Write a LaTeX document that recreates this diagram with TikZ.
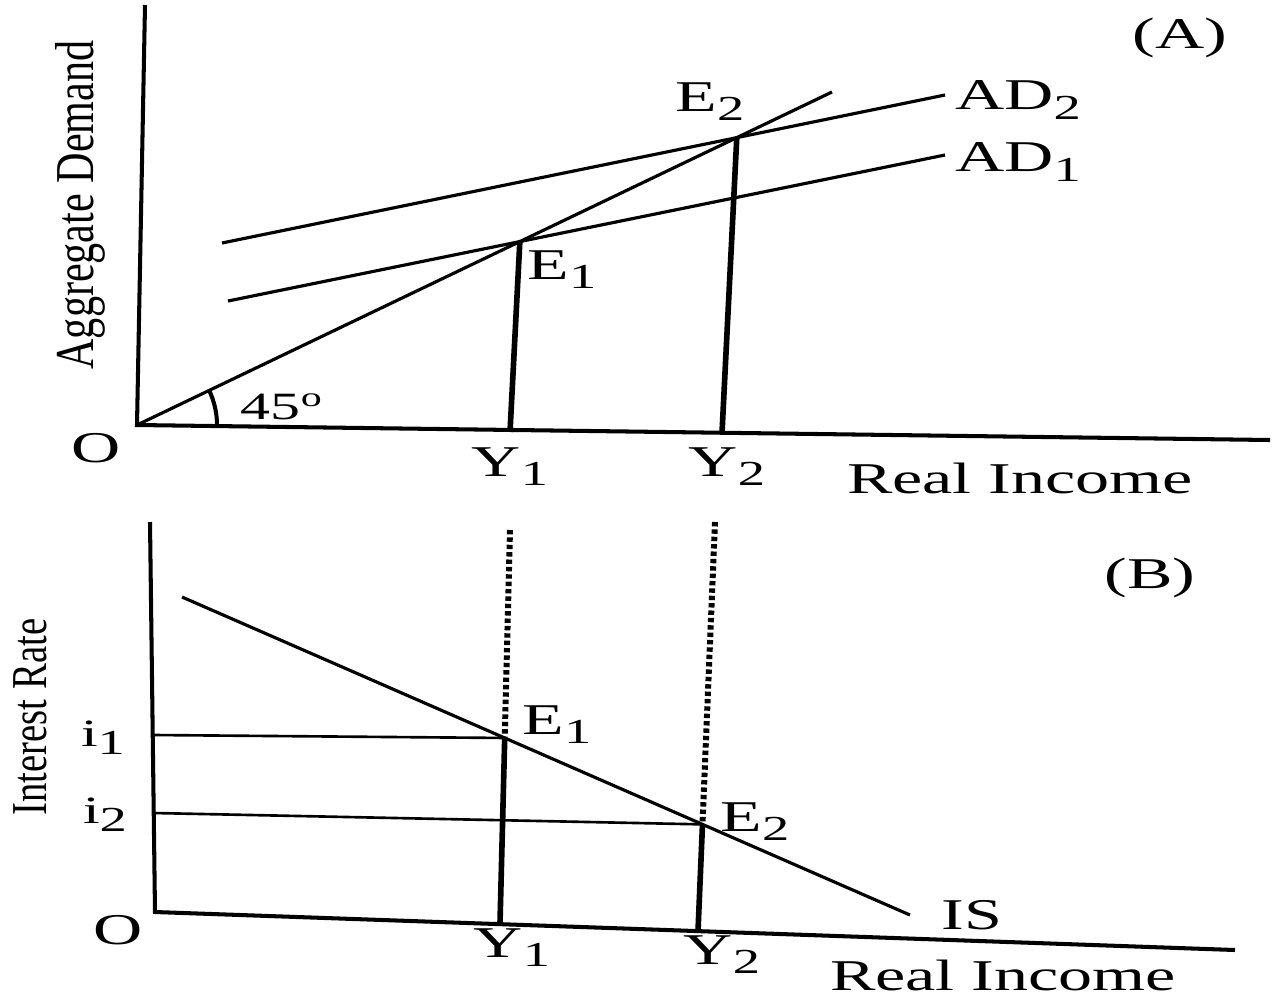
\documentclass[tikz,border=0pt]{standalone}
\usepackage{fontspec}
\setmainfont{Liberation Serif}
\usetikzlibrary{positioning}
\newcommand{\lblfont}{\fontsize{25}{28}\selectfont}
\newcommand{\wide}[1]{\scalebox{1.55}[1]{#1}}
\newcommand{\tall}[1]{\scalebox{1}[1.3]{#1}}
\newcommand{\sub}[1]{\raisebox{-0.45ex}{\fontsize{20}{20}\selectfont #1}}
\begin{document}
\begin{tikzpicture}[x=0.02cm, y=-0.02cm,
    axis/.style={line width=2.3pt},
    curve/.style={line width=1.8pt},
    drop/.style={line width=3.2pt},
    dotdrop/.style={line width=3.4pt, dash pattern=on 2.5pt off 1.7pt},
    level/.style={line width=1.5pt},
    lbl/.style={font=\lblfont, inner sep=0pt},
    small/.style={font=\fontsize{22}{24}\selectfont, inner sep=0pt},
    ytitle/.style={rotate=90, inner sep=0pt}]
  \useasboundingbox (0,0) rectangle (1274,1005);

  % panel (A): 45 degree line and aggregate demand
  \coordinate (OA)    at (137,425);
  \coordinate (YtopA) at (145,5);
  \coordinate (XendA) at (1270,440);
  \coordinate (L45)   at (832,92);
  \coordinate (AD1s)  at (228,301);
  \coordinate (AD1e)  at (945,155);
  \coordinate (AD2s)  at (222,243);
  \coordinate (AD2e)  at (945,95);
  \coordinate (E1A)   at (intersection of OA--L45 and AD1s--AD1e);
  \coordinate (E2A)   at (intersection of OA--L45 and AD2s--AD2e);
  \coordinate (Y1A)   at (510,432);
  \coordinate (Y2A)   at (722,433);

  \draw[axis]  (YtopA) -- (OA) -- (XendA);
  \draw[curve] (OA) -- (L45);
  \draw[curve] (AD1s) -- (AD1e);
  \draw[curve] (AD2s) -- (AD2e);
  \draw[drop]  (E1A) -- (Y1A);
  \draw[drop]  (E2A) -- (Y2A);
  \draw[axis]  (OA) ++(80,0) arc[start angle=0, end angle=-26, radius=80];

  \node[lbl] (Alab)   at (1180,38)  {\wide{(A)}};
  \node[lbl, anchor=west] (AD2lab) at (955,100) {\wide{AD\sub{2}}};
  \node[lbl, anchor=west] (AD1lab) at (955,162) {\wide{AD\sub{1}}};
  \node[lbl] (E2Alab) at (710,102)  {\wide{E\sub{2}}};
  \node[lbl] (E1Alab) at (562,270)  {\wide{E\sub{1}}};
  \node[small] (ang)  at (282,407)  {\wide{45\textsuperscript{o}}};
  \node[lbl] (OAlab)  at (96,448)   {\wide{O}};
  \node[lbl] (Y1Alab) at (510,467)  {\wide{Y\sub{1}}};
  \node[lbl] (Y2Alab) at (727,467)  {\wide{Y\sub{2}}};
  \node[lbl] (RIA)    at (1020,478) {\wide{Real Income}};
  \node[ytitle] (AD)  at (80,205)   {\fontsize{24}{26}\selectfont\tall{Aggregate Demand}};

  % panel (B): IS curve
  \coordinate (OB)    at (155,912);
  \coordinate (YtopB) at (150,522);
  \coordinate (XendB) at (1235,950);
  \coordinate (ISs)   at (182,597);
  \coordinate (ISe)   at (910,915);
  \coordinate (D1top) at (510,530);
  \coordinate (D2top) at (715,522);
  \coordinate (Y1B)   at (500,923);
  \coordinate (Y2B)   at (698,931);
  \coordinate (E1B)   at (intersection of ISs--ISe and D1top--Y1B);
  \coordinate (E2B)   at (intersection of ISs--ISe and D2top--Y2B);
  \coordinate (i1s)   at (154,735);
  \coordinate (i2s)   at (154,813);

  \draw[axis]    (YtopB) -- (OB) -- (XendB);
  \draw[curve]   (ISs) -- (ISe);
  \draw[level]   (i1s) -- (E1B);
  \draw[level]   (i2s) -- (E2B);
  \draw[dotdrop] (D1top) -- (E1B);
  \draw[dotdrop] (D2top) -- (E2B);
  \draw[drop]    (E1B) -- (Y1B);
  \draw[drop]    (E2B) -- (Y2B);

  \node[lbl] (Blab)   at (1150,578) {\wide{(B)}};
  \node[lbl] (E1Blab) at (557,725)  {\wide{E\sub{1}}};
  \node[lbl] (E2Blab) at (755,822)  {\wide{E\sub{2}}};
  \node[small] (i1lab) at (103,738) {\wide{i\sub{1}}};
  \node[small] (i2lab) at (105,815) {\wide{i\sub{2}}};
  \node[lbl] (OBlab)  at (118,930)  {\wide{O}};
  \node[lbl] (ISlab)  at (972,915)  {\wide{IS}};
  \node[lbl] (Y1Blab) at (512,948)  {\wide{Y\sub{1}}};
  \node[lbl] (Y2Blab) at (722,955)  {\wide{Y\sub{2}}};
  \node[lbl] (RIB)    at (1003,975) {\wide{Real Income}};
  \node[ytitle] (IR)  at (30,717)   {\fontsize{22}{24}\selectfont\tall{Interest Rate}};
\end{tikzpicture}
\end{document}
